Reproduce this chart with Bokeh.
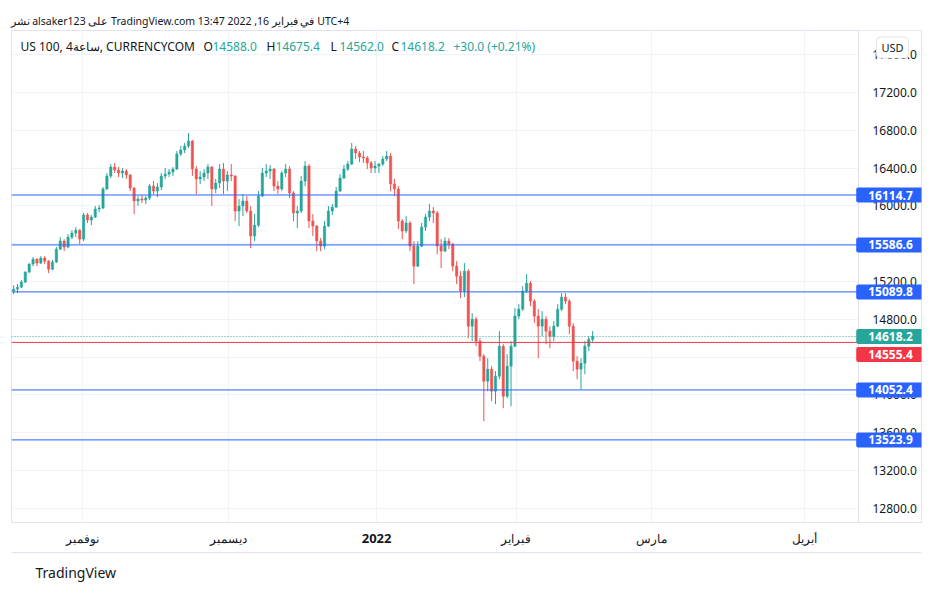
from bokeh.plotting import figure
from bokeh.models import (ColumnDataSource, Span, Label, FixedTicker, SingleIntervalTicker,
                          NumeralTickFormatter, Range1d, Title, LinearAxis)
from bokeh.embed import file_html
from bokeh.resources import INLINE

# ---------------- data (US 100, CURRENCYCOM, candles) ----------------
opens = [15098, 15119, 15140, 15193, 15299, 15384, 15436, 15394, 15447, 15415,
         15330, 15405, 15542, 15627, 15564, 15669, 15712, 15743, 15648, 15902,
         15849, 15881, 15966, 15976, 16178, 16315, 16410, 16379, 16347, 16368,
         16326, 16188, 16051, 16072, 16061, 16082, 16209, 16156, 16199, 16315,
         16336, 16358, 16389, 16548, 16591, 16633, 16686, 16389, 16284, 16305,
         16347, 16410, 16178, 16241, 16389, 16262, 16326, 16315, 15945, 15998,
         16051, 15945, 15680, 15796, 16104, 16347, 16368, 16389, 16209, 16178,
         16347, 16389, 16135, 15924, 15945, 16262, 16421, 15839, 15786, 15627,
         15574, 15786, 15945, 15987, 16156, 16294, 16389, 16442, 16601, 16559,
         16516, 16506, 16453, 16400, 16421, 16442, 16495, 16527, 16231, 16178,
         15839, 15733, 15818, 15574, 15362, 15574, 15775, 15881, 15945, 15924,
         15574, 15521, 15627, 15595, 15362, 15256, 15098, 15309, 14727, 14801,
         14568, 14409, 14145, 14272, 14039, 14198, 14515, 13986, 14304, 14515,
         14833, 14907, 15098, 15182, 14992, 14833, 14727, 14801, 14674, 14621,
         14727, 14907, 15034, 14992, 14727, 14357, 14272, 14335, 14515, 14588.0]

closes = [15119, 15140, 15193, 15299, 15384, 15436, 15394, 15447, 15415, 15330,
          15405, 15542, 15627, 15564, 15669, 15712, 15743, 15648, 15902, 15849,
          15881, 15966, 15976, 16178, 16315, 16410, 16379, 16347, 16368, 16326,
          16188, 16051, 16072, 16061, 16082, 16209, 16156, 16199, 16315, 16336,
          16358, 16389, 16548, 16591, 16633, 16686, 16389, 16284, 16305, 16347,
          16410, 16178, 16241, 16389, 16262, 16326, 16315, 15945, 15998, 16051,
          15945, 15680, 15796, 16104, 16347, 16368, 16389, 16209, 16178, 16347,
          16389, 16135, 15924, 15945, 16262, 16421, 15839, 15786, 15627, 15574,
          15786, 15945, 15987, 16156, 16294, 16389, 16442, 16601, 16559, 16516,
          16506, 16453, 16400, 16421, 16442, 16495, 16527, 16231, 16178, 15839,
          15733, 15818, 15574, 15362, 15574, 15775, 15881, 15945, 15924, 15574,
          15521, 15627, 15595, 15362, 15256, 15098, 15309, 14727, 14801, 14568,
          14409, 14145, 14272, 14039, 14198, 14515, 13986, 14304, 14515, 14833,
          14907, 15098, 15182, 14992, 14833, 14727, 14801, 14674, 14621, 14727,
          14907, 15034, 14992, 14727, 14357, 14272, 14335, 14515, 14588, 14618.2]

highs = [15161, 15172, 15214, 15309, 15394, 15458, 15447, 15468, 15468, 15426,
         15426, 15564, 15669, 15648, 15701, 15743, 15775, 15754, 15924, 15924,
         15902, 15998, 16008, 16199, 16347, 16442, 16453, 16410, 16400, 16389,
         16336, 16199, 16104, 16114, 16104, 16231, 16262, 16241, 16347, 16400,
         16389, 16410, 16580, 16633, 16665, 16770, 16697, 16421, 16368, 16389,
         16442, 16421, 16284, 16442, 16453, 16368, 16442, 16326, 16072, 16125,
         16104, 15998, 15913, 16156, 16400, 16442, 16432, 16400, 16262, 16368,
         16442, 16421, 16156, 15998, 16315, 16474, 16442, 15913, 15796, 15659,
         15839, 15998, 16019, 16199, 16336, 16432, 16474, 16665, 16633, 16580,
         16580, 16527, 16474, 16474, 16453, 16527, 16580, 16559, 16284, 16209,
         15860, 15892, 15839, 15627, 15627, 15818, 15913, 16019, 15987, 15945,
         15648, 15669, 15659, 15606, 15415, 15309, 15394, 15330, 14865, 14822,
         14600, 14431, 14388, 14304, 14251, 14674, 14536, 14431, 14568, 14918,
         14960, 15150, 15278, 15204, 15013, 14907, 14886, 14833, 14727, 14780,
         14960, 15077, 15077, 15013, 14759, 14409, 14388, 14568, 14621, 14675.4]

lows = [15066, 15077, 15130, 15182, 15288, 15362, 15362, 15384, 15384, 15288,
        15320, 15394, 15532, 15521, 15553, 15648, 15669, 15595, 15627, 15818,
        15796, 15871, 15934, 15966, 16167, 16294, 16347, 16305, 16294, 16284,
        16156, 15913, 15998, 16029, 16019, 16061, 16125, 16093, 16167, 16284,
        16305, 16315, 16379, 16527, 16559, 16612, 16315, 16125, 16231, 16262,
        16284, 15998, 16135, 16188, 16125, 16156, 16262, 15839, 15786, 15892,
        15924, 15553, 15627, 15775, 16093, 16305, 16284, 16156, 16125, 16156,
        16305, 16082, 15839, 15765, 15924, 16209, 15765, 15680, 15521, 15521,
        15542, 15775, 15902, 15976, 16146, 16284, 16368, 16432, 16495, 16463,
        16453, 16389, 16347, 16347, 16347, 16421, 16474, 16156, 16104, 15754,
        15648, 15712, 15521, 15172, 15352, 15564, 15733, 15839, 15818, 15489,
        15341, 15511, 15542, 15309, 15172, 15024, 15034, 14600, 14568, 14515,
        14357, 13721, 14039, 13933, 13901, 14166, 13859, 13965, 13880, 14505,
        14801, 14886, 15077, 14939, 14759, 14388, 14621, 14536, 14494, 14568,
        14716, 14886, 14960, 14642, 14251, 14166, 14060, 14219, 14462, 14562.0]

# time axis: tick positions (in candle index units) and their labels
month_ticks = [17.7, 55.3, 93.4, 129.4, 164.1, 203.5]
month_labels = ["نوفمبر", "ديسمبر", "2022", "فبراير", "مارس", "أبريل"]

# horizontal levels drawn on the chart
level_values = [16114.7, 15586.6, 15089.8, 14052.4, 13523.9]
prev_close = 14555.4
last_price = 14618.2

title_text = "نشر alsaker123 على TradingView.com في فبراير 16, 2022 13:47 UTC+4"
symbol_text = "US 100, 4ساعة, CURRENCYCOM"
ohlc_letters = ["O", "H", "L", "C"]
ohlc_values = ["14588.0", "14675.4", "14562.0", "14618.2"]
change_text = "+30.0 (+0.21%)"

# ---------------- layout helpers (page pixel -> data) ----------------
FL, FR, FT, FB = 11, 921, 30, 522      # frame incl. the price column
PX = 858                               # left edge of the price column
SCALE = 3.886                          # px per candle slot
X0 = -0.55
X1 = X0 + (FR - FL) / SCALE
Y0, Y1 = 12650, 17855


def xd(px):
    return X0 + (px - FL) / SCALE


def yd(py):
    return Y1 - (py - FT) * (Y1 - Y0) / (FB - FT)


XP = xd(PX)

GREEN = "#26a69a"
RED = "#ef5350"
BLUE = "#2962ff"
TXT = "#131722"
BORDER = "#e0e3eb"
FONT = "Noto Sans"

p = figure(frame_width=FR - FL, frame_height=FB - FT,
           x_range=Range1d(X0, X1), y_range=Range1d(Y0, Y1),
           y_axis_location="right", output_backend="svg", toolbar_location=None,
           min_border_left=FL, min_border_top=FT, min_border_bottom=40,
           min_border_right=10, background_fill_color="white",
           border_fill_color="white", outline_line_color=BORDER)

# header title
p.title.text = title_text
p.title.text_font = FONT
p.title.text_font_size = "10.5px"
p.title.text_font_style = "normal"
p.title.text_color = TXT
p.title.align = "left"
p.title.offset = -1
p.title.standoff = 6

# grid
p.xgrid.grid_line_color = "#f0f3fa"
p.ygrid.grid_line_color = "#f0f3fa"

# x axis (months); an empty tiny axis title pads the row to the bottom border
p.xaxis.ticker = FixedTicker(ticks=month_ticks)
p.xaxis.major_label_overrides = {t: (l if l != "2022" else "") for t, l in zip(month_ticks, month_labels)}
p.xaxis.major_tick_line_color = None
p.xaxis.major_tick_out = 0
p.xaxis.major_tick_in = 0
p.xaxis.minor_tick_line_color = None
p.xaxis.axis_line_color = BORDER
p.xaxis.major_label_text_font = FONT
p.xaxis.major_label_text_font_size = "12px"
p.xaxis.major_label_text_color = TXT
p.xaxis.major_label_standoff = 7
p.xaxis.axis_label = " "
p.xaxis.axis_label_text_font_size = "6px"
p.xaxis.axis_label_standoff = -6

# second x axis: bold year label pulled up into the same row; its line is the bottom border
year_axis = LinearAxis(ticker=FixedTicker(ticks=[month_ticks[2]]),
                       major_label_overrides={month_ticks[2]: "2022"},
                       major_tick_line_color=None, major_tick_out=0, major_tick_in=0,
                       minor_tick_line_color=None, axis_line_color=BORDER,
                       major_label_text_font=FONT, major_label_text_font_size="13px",
                       major_label_text_font_style="bold", major_label_text_color=TXT,
                       major_label_standoff=-19)
p.add_layout(year_axis, "below")

# y axis (right), labels pulled back into the price column
p.yaxis.ticker = SingleIntervalTicker(interval=400)
p.yaxis.formatter = NumeralTickFormatter(format="0.0")
p.yaxis.major_tick_line_color = None
p.yaxis.major_tick_out = 0
p.yaxis.major_tick_in = 0
p.yaxis.minor_tick_line_color = None
p.yaxis.axis_line_color = BORDER
p.yaxis.major_label_text_font = FONT
p.yaxis.major_label_text_font_size = "12px"
p.yaxis.major_label_text_color = TXT
p.yaxis.major_label_standoff = -(FR - PX) + 10

# footer
p.add_layout(Title(text="TradingView", text_font=FONT, text_font_size="14px",
                   text_font_style="normal", text_color=TXT, align="left",
                   offset=24, standoff=16), "below")

# candles
n = len(closes)
colors = [GREEN if c >= o else RED for o, c in zip(opens, closes)]
src = ColumnDataSource(dict(
    x=list(range(n)), open=opens, close=closes, high=highs, low=lows,
    top=[max(o, c) for o, c in zip(opens, closes)],
    bottom=[min(o, c) for o, c in zip(opens, closes)],
    color=colors))
p.segment(x0="x", y0="low", x1="x", y1="high", source=src, line_color="color", line_width=1)
p.vbar(x="x", width=0.6, top="top", bottom="bottom", source=src,
       fill_color="color", line_color="color", line_width=0.5)

# white price column (covers grid)
p.quad(left=[XP], right=[X1], bottom=[Y0], top=[Y1], fill_color="white", line_color=None)

# horizontal levels (stop at the price column)
p.segment(x0=[X0] * len(level_values), x1=[XP] * len(level_values),
          y0=level_values, y1=level_values, line_color=BLUE, line_width=1)
p.segment(x0=[X0], x1=[XP], y0=[prev_close], y1=[prev_close], line_color="#f23645", line_width=1)
p.segment(x0=[X0], x1=[XP], y0=[last_price], y1=[last_price], line_color=GREEN,
          line_width=1, line_dash="1 2")

# separator between chart and price column
p.add_layout(Span(location=XP, dimension="height", line_color=BORDER, line_width=1))


def price_box(val, color, ypos):
    p.add_layout(Label(x=xd(890), y=ypos, text=f"{val:.1f}", text_align="center",
                       text_baseline="middle", text_color="white", text_font=FONT,
                       text_font_size="12px", text_font_style="bold",
                       background_fill_color=color,
                       padding=dict(left=12, right=12, top=3, bottom=3), border_radius=2))


for v in level_values:
    price_box(v, BLUE, v)
price_box(last_price, GREEN, last_price)
price_box(prev_close, "#f23645", yd(354))

# USD badge
p.add_layout(Label(x=xd(892), y=yd(47), text="USD", text_align="center", text_baseline="middle",
                   text_color=TXT, text_font=FONT, text_font_size="11px",
                   background_fill_color="white", border_line_color=BORDER,
                   padding=dict(left=5, right=5, top=3, bottom=3), border_radius=4))

# legend row
p.add_layout(Label(x=xd(20), y=yd(46), text=symbol_text, text_align="left", text_baseline="middle",
                   text_color=TXT, text_font=FONT, text_font_size="12px"))
ohlc_px = [203, 266, 330, 391]
for px, letter, val in zip(ohlc_px, ohlc_letters, ohlc_values):
    p.add_layout(Label(x=xd(px), y=yd(46), text=letter, text_align="left", text_baseline="middle",
                       text_color=TXT, text_font=FONT, text_font_size="12px"))
    p.add_layout(Label(x=xd(px + 9), y=yd(46), text=val, text_align="left", text_baseline="middle",
                       text_color=GREEN, text_font=FONT, text_font_size="12px"))
p.add_layout(Label(x=xd(453), y=yd(46), text=change_text, text_align="left", text_baseline="middle",
                   text_color=GREEN, text_font=FONT, text_font_size="12px"))

open("out.html", "w").write(file_html(p, INLINE))
